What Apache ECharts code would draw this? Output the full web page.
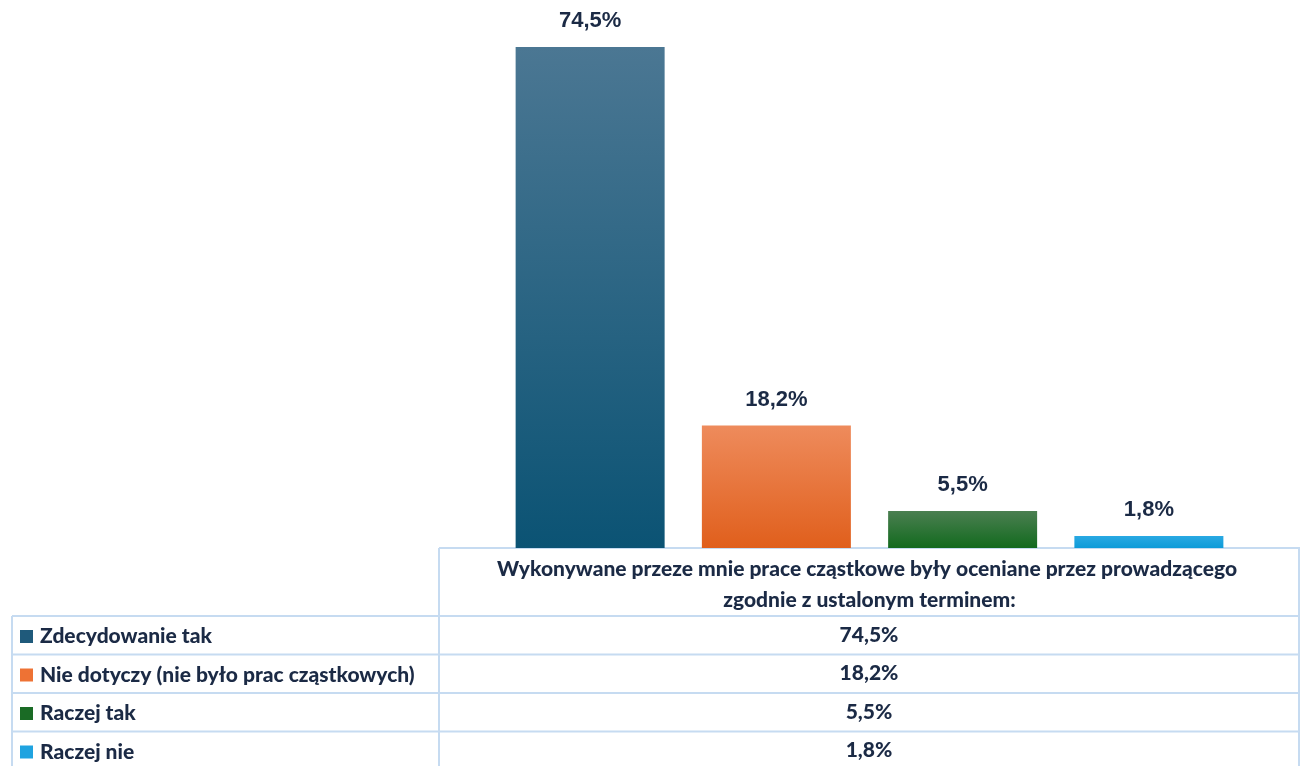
<!DOCTYPE html>
<html><head><meta charset="utf-8">
<script src="https://cdn.jsdelivr.net/npm/echarts@6/dist/echarts.min.js"></script>
<style>html,body{margin:0;padding:0;background:#fff}#c{width:1301px;height:766px}</style>
</head><body><div id="c"></div>
<script>
const category = ['Wykonywane przeze mnie prace cząstkowe były oceniane przez prowadzącego zgodnie z ustalonym terminem:'];
const seriesNames = ['Zdecydowanie tak', 'Nie dotyczy (nie było prac cząstkowych)', 'Raczej tak', 'Raczej nie'];
const values = [74.5, 18.2, 5.5, 1.8];
const solidColors = ['#1f5a7b', '#ee7234', '#1a6b25', '#1fa3e0'];
const gradTop = ['#4b7793', '#ee8b5c', '#4b7f51', '#2aa9e3'];
const gradBottom = ['#0b5374', '#e05f1c', '#126a1e', '#0e9bd8'];

const fmt = v => v.toFixed(1).replace('.', ',') + '%';
const textColor = '#1b2a45';
const lineColor = '#c6dbf1';

const chart = echarts.init(document.getElementById('c'));

const series = seriesNames.map((n, i) => ({
  name: n,
  type: 'bar',
  data: [values[i]],
  barWidth: 149,
  barGap: '25%',
  itemStyle: {
    color: { type: 'linear', x: 0, y: 0, x2: 0, y2: 1,
      colorStops: [{ offset: 0, color: gradTop[i] }, { offset: 1, color: gradBottom[i] }] }
  },
  label: {
    show: true, position: 'top', distance: 15,
    formatter: p => fmt(p.value),
    fontFamily: 'Liberation Sans, Arial', fontWeight: 'bold', fontSize: 22, color: textColor
  }
}));

// table graphics
const rowYs = [616, 654.5, 693, 731.5, 770];
const g = [];
const L = { stroke: lineColor, lineWidth: 2 };
g.push({ type: 'line', shape: { x1: 439, y1: 548, x2: 1300, y2: 548 }, style: L });
g.push({ type: 'line', shape: { x1: 439, y1: 548, x2: 439, y2: 766 }, style: L });
g.push({ type: 'line', shape: { x1: 1299, y1: 548, x2: 1299, y2: 766 }, style: L });
g.push({ type: 'line', shape: { x1: 12, y1: 616, x2: 12, y2: 766 }, style: L });
for (let r = 0; r < 4; r++) {
  g.push({ type: 'line', shape: { x1: 12, y1: rowYs[r], x2: 1300, y2: rowYs[r] }, style: L });
}
values.forEach((v, i) => {
  g.push({ type: 'text', x: 869, y: (rowYs[i] + rowYs[i + 1]) / 2 - 0.5,
    style: { text: fmt(v), align: 'center', verticalAlign: 'middle',
      font: '900 21px Lato, sans-serif', fill: textColor } });
});

const legends = seriesNames.map((n, i) => ({
  orient: 'vertical', left: 20, top: 635 + i * 38.5 - 9, padding: 0,
  itemWidth: 13, itemHeight: 13, itemGap: 0,
  icon: 'rect',
  data: [{ name: n, itemStyle: { color: solidColors[i] } }],
  textStyle: { fontFamily: 'Lato', fontWeight: 900, fontSize: 21, color: textColor, padding: [0, 0, 0, 2] },
  selectedMode: false
}));

chart.setOption({
  animation: false,
  grid: { left: 439, right: 1, top: 10, bottom: 218 },
  legend: legends,
  xAxis: {
    type: 'category', data: category,
    axisLine: { show: false }, axisTick: { show: false },
    axisLabel: {
      interval: 0, margin: 6, width: 790, overflow: 'break', lineHeight: 31,
      fontFamily: 'Lato', fontWeight: 900, fontSize: 21, color: textColor
    }
  },
  yAxis: { type: 'value', min: 0, max: 80, show: false, splitLine: { show: false } },
  series: series,
  graphic: g
});
</script></body></html>
